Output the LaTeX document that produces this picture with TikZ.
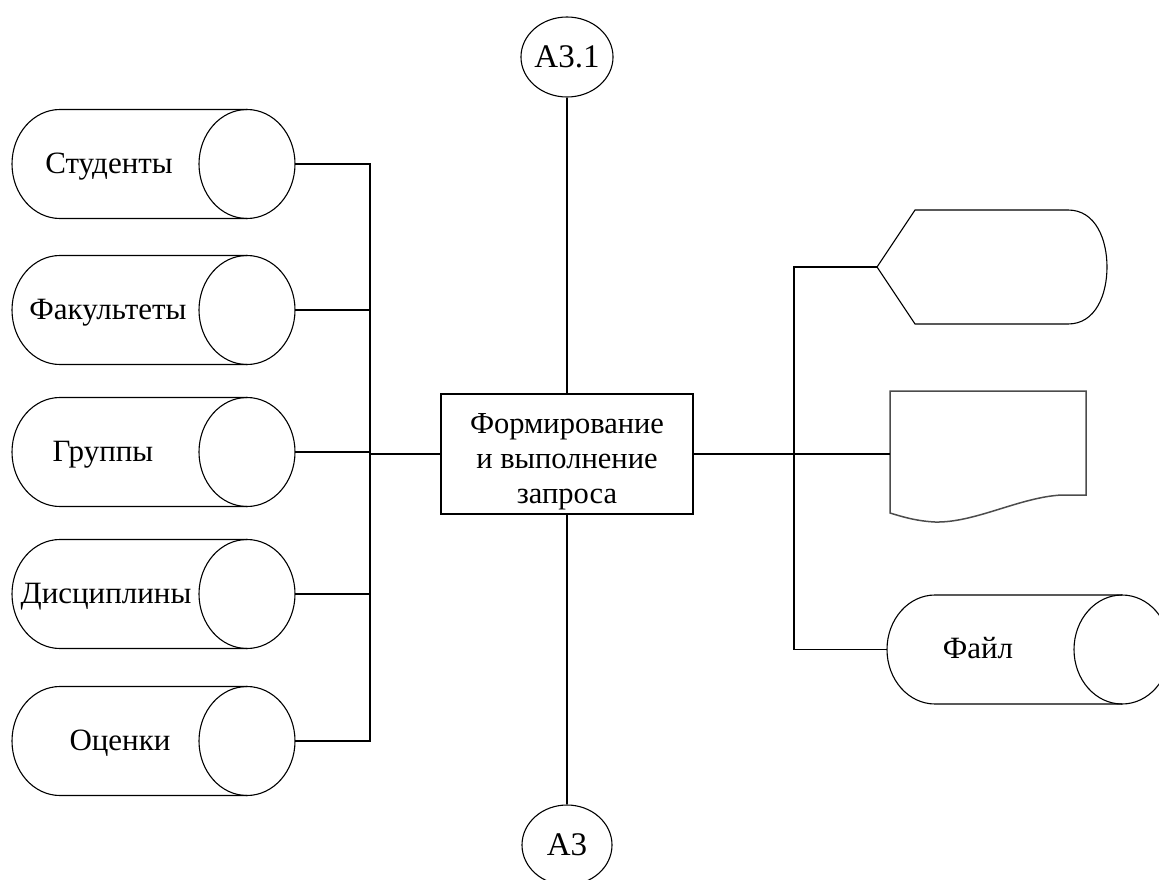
\documentclass[tikz,border=0pt]{standalone}
\usepackage{fontspec}
\setmainfont{Liberation Serif}
\usetikzlibrary{shapes.geometric}
\tikzset{
	lbl/.style={anchor=base, font=\fontsize{31}{34}\selectfont},
	ref/.style={ellipse, draw, line width=1.1pt, minimum width=90, minimum height=80, inner sep=0pt, font=\fontsize{33}{36}\selectfont},
	wire/.style={line width=1.1pt}
}
% store: name, centre, text x, text
\def\store#1(#2,#3)#4#5{%
	\coordinate (#1) at (#2, #3);
	\coordinate (#1-w) at ({#2-141.5}, #3);
	\coordinate (#1-e) at ({#2+141.5}, #3);
	\draw[wire] ({#2+93.5}, {#3-54.5}) -- ({#2-93.5}, {#3-54.5}) arc (270:90:48 and 54.5) -- ({#2+93.5}, {#3+54.5});
	\draw[wire] ({#2+93.5}, #3) ellipse (48 and 54.5);
	\node[lbl] (#1-t) at (#4, {#3+9}) {#5};
}

\begin{document}
\begin{tikzpicture}[x=1pt, y=-1pt]
	%%%%% START %%%%%
	\useasboundingbox (0, 0) rectangle (1159, 880);
	
	\node[draw, line width=1.1pt, minimum width=252, minimum height=120] (proc) at (567, 454) {};
	\node[align=center, font=\fontsize{30.5}{35}\selectfont] (proc-t) at (567, 462) {Формирование\\и выполнение\\запроса};
	
	\node[ref] (a31) at (567, 57) {A3.1};
	\node[ref] (a3) at (567, 845) {A3};
	\draw[wire] (proc.north) -- (a31.south);
	\draw[wire] (proc.south) -- (a3.north);
	
	% left stores
	\store{stud}(153.5, 164){109}{Студенты}
	\store{fac}(153.5, 310){108}{Факультеты}
	\store{grp}(153.5, 452){103}{Группы}
	\store{disc}(153.5, 594){106}{Дисциплины}
	\store{mark}(153.5, 741){120}{Оценки}
	
	\coordinate (lbus) at (370, 454);
	\foreach \n in {stud, fac, grp, disc, mark}
		\draw[wire] (\n-e) -| (lbus);
	\draw[wire] (lbus) -- (proc.west);
	
	% right side
	\coordinate (disp) at (877, 267);
	\draw[wire] (disp) -- (915, 210) -- (1068, 210) .. controls (1096, 210) and (1107, 240) .. (1107, 267) .. controls (1107, 294) and (1096, 324) .. (1068, 324) -- (915, 324) -- cycle;
	
	\coordinate (doc) at (890, 454);
	\draw[line width=1.5pt, draw=black!70] (890, 391) -- (1086, 391) -- (1086, 495) -- (1062, 495) .. controls (1020, 497) and (975, 523) .. (935, 522) .. controls (915, 521) and (900, 516) .. (890, 513) -- cycle;
	
	\store{file}(1028.5, 649.5){978}{Файл}
	
	\coordinate (rbus) at (794, 649.5);
	\draw[wire] (proc.east) -- (doc);
	\draw[wire] (disp) -| (rbus) -- (file-w);
	
	%%%%% END %%%%%
\end{tikzpicture}
\end{document}
